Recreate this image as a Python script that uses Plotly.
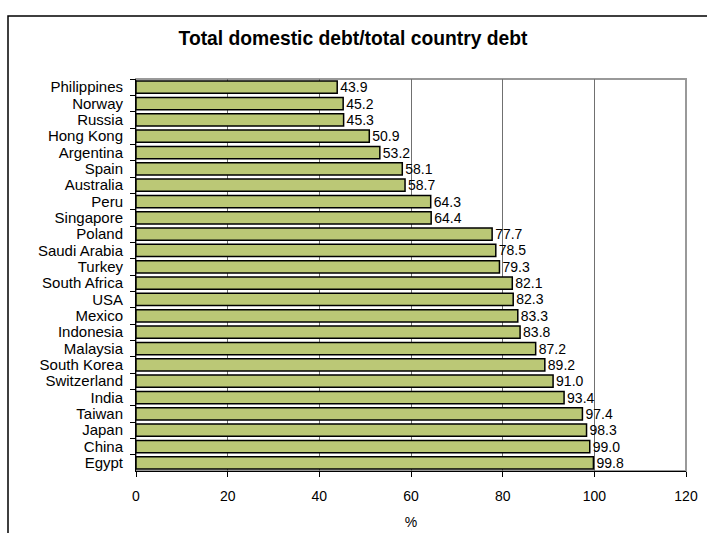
import plotly.graph_objects as go

countries = ["Philippines", "Norway", "Russia", "Hong Kong", "Argentina", "Spain",
             "Australia", "Peru", "Singapore", "Poland", "Saudi Arabia", "Turkey",
             "South Africa", "USA", "Mexico", "Indonesia", "Malaysia", "South Korea",
             "Switzerland", "India", "Taiwan", "Japan", "China", "Egypt"]
values = [43.9, 45.2, 45.3, 50.9, 53.2, 58.1, 58.7, 64.3, 64.4, 77.7, 78.5, 79.3,
          82.1, 82.3, 83.3, 83.8, 87.2, 89.2, 91.0, 93.4, 97.4, 98.3, 99.0, 99.8]
x_ticks = [0, 20, 40, 60, 80, 100, 120]

W, H = 707, 533
L, R, T, B = 136, 21, 79, 62
pw, ph = W - L - R, H - T - B

fig = go.Figure(go.Bar(
    x=values, y=countries, orientation="h",
    marker=dict(color="#BBC876", line=dict(color="black", width=1.5)),
    text=[f"{v:.1f}" for v in values], textposition="outside",
    constraintext="none",
    textfont=dict(family="Liberation Sans, Arial", size=14, color="black"),
    cliponaxis=False,
))

fig.update_layout(
    width=W, height=H,
    margin=dict(l=L, r=R, t=T, b=B, autoexpand=False),
    paper_bgcolor="white", plot_bgcolor="white",
    bargap=0.25,
    showlegend=False,
    font=dict(family="Liberation Sans, Arial", size=14, color="black"),
    title=dict(text="<b>Total domestic debt/total country debt</b>",
               x=353 / W, xanchor="center", y=1 - 38 / H, yanchor="middle",
               font=dict(family="Liberation Sans, Arial", size=19.3, color="black")),
    xaxis=dict(range=[0, 120], tickvals=x_ticks, ticks="outside", ticklen=5,
               tickcolor="black", showline=True, linecolor="black", linewidth=1,
               showgrid=True, gridcolor="#707070", gridwidth=1, zeroline=False,
               ticklabelstandoff=7, automargin=False,
               tickfont=dict(size=14), title=dict(text="%", font=dict(size=14), standoff=14)),
    yaxis=dict(autorange="reversed", ticks="outside", tickson="boundaries", ticklen=5,
               dtick=1, tickmode="linear", automargin=False,
               tickcolor="black", showline=True, linecolor="black", linewidth=1,
               showgrid=False, tickfont=dict(size=15), ticklabelstandoff=9),
    shapes=[
        dict(type="rect", xref="paper", yref="paper", x0=0, x1=1, y0=0, y1=1,
             line=dict(color="#999999", width=2), layer="below"),
        dict(type="rect", xref="paper", yref="paper",
             x0=(8 - L) / pw, x1=(W + 20 - L) / pw,
             y0=-(B + 20) / ph, y1=(H - 16 - B) / ph,
             line=dict(color="black", width=1.5)),
    ],
)

fig.write_html("out.html")
